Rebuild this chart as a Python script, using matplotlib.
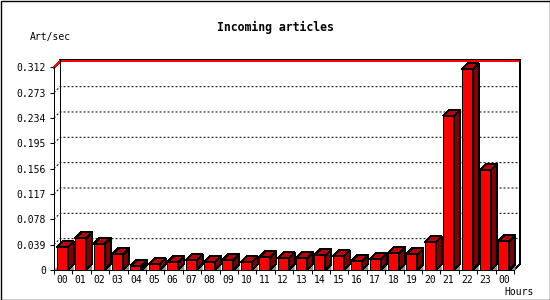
import matplotlib
matplotlib.use('Agg')
import matplotlib.pyplot as plt
from matplotlib.patches import Polygon, Rectangle

matplotlib.rcParams['font.family'] = 'DejaVu Sans Mono'
matplotlib.rcParams['font.size'] = 7
matplotlib.rcParams['lines.scale_dashes'] = False

# 시간대별 값 (Art/sec)
hours = ['00', '01', '02', '03', '04', '05', '06', '07', '08', '09', '10', '11',
         '12', '13', '14', '15', '16', '17', '18', '19', '20', '21', '22', '23', '00']
rates = [0.035, 0.049, 0.040, 0.024, 0.006, 0.009, 0.012, 0.015, 0.012, 0.015,
         0.012, 0.0195, 0.018, 0.018, 0.0226, 0.021, 0.0134, 0.0165, 0.0257, 0.0241,
         0.0426, 0.2375, 0.309, 0.1535, 0.0442]
ytick_vals = [0, 0.039, 0.078, 0.117, 0.156, 0.195, 0.234, 0.273, 0.312]
ytick_labels = ['0', '0.039', '0.078', '0.117', '0.156', '0.195', '0.234', '0.273', '0.312']
ymax = 0.312

FRONT = '#ff0000'
TOP = '#c00000'
SIDE = '#800000'
FLOOR = '#8c8c8c'
LW = 0.72  # 1px

fig = plt.figure(figsize=(5.5, 3), dpi=100, facecolor='white')
ax = fig.add_axes([54 / 550, 30 / 300, 460 / 550, 202.7 / 300])
ax.set_xlim(-0.5, len(hours) - 0.5)
ax.set_ylim(0, ymax)
ax.set_facecolor('none')

# 3D 깊이 (6px) -> 데이터 단위
px_x = 460 / len(hours)
px_y = 202.7 / ymax
DX = 6 / px_x
DY = 6 / px_y
x0, x1 = -0.5, len(hours) - 0.5

# 격자선 (왼쪽 벽 + 뒷벽), 점선
for v in ytick_vals[1:-1]:
    ax.plot([x0, x0 + DX, x1 + DX], [v, v + DY, v + DY], color='black',
            lw=LW, linestyle=(0, (1.44, 1.44)), clip_on=False, zorder=1)
# 최대값 선 (빨강)
ax.plot([x0, x0 + DX, x1 + DX], [ymax, ymax + DY, ymax + DY], color='red',
        lw=LW, clip_on=False, antialiased=False, zorder=2)
# 뒷벽 테두리
ax.plot([x0 + DX, x1 + DX, x1 + DX, x1], [ymax + DY * 1.3, ymax + DY * 1.3, DY, 0],
        color='black', lw=LW, clip_on=False, antialiased=False, zorder=2)
ax.plot([x0 + DX, x0 + DX], [DY, ymax + DY * 1.3], color='black', lw=LW,
        clip_on=False, antialiased=False, zorder=2)

# 바닥 그림자 (왼쪽)
ax.add_patch(Polygon([(x0, 0), (x0 + DX, DY), (x0 + DX, 0)], closed=True,
                     facecolor=FLOOR, edgecolor='none', clip_on=False, zorder=2))

w = 0.6
for i, v in enumerate(rates):
    l = i - 0.05 - w / 2
    r = l + w
    # 그림자
    ax.add_patch(Polygon([(r, 0), (r + DX, DY), (r + DX, 0)], closed=True,
                         facecolor=FLOOR, edgecolor='none', clip_on=False, zorder=3))
    # 앞면
    ax.add_patch(Polygon([(l, 0), (r, 0), (r, v), (l, v)], closed=True,
                         facecolor=FRONT, edgecolor='black', lw=LW,
                         clip_on=False, antialiased=False, zorder=4))
    # 윗면
    ax.add_patch(Polygon([(l, v), (r, v), (r + DX, v + DY), (l + DX, v + DY)], closed=True,
                         facecolor=TOP, edgecolor='black', lw=LW,
                         clip_on=False, antialiased=False, zorder=4))
    # 옆면
    ax.add_patch(Polygon([(r, 0), (r + DX, DY), (r + DX, v + DY), (r, v)], closed=True,
                         facecolor=SIDE, edgecolor='black', lw=LW,
                         clip_on=False, antialiased=False, zorder=4))

# 축 설정
for s in ['top', 'right']:
    ax.spines[s].set_visible(False)
for s in ['left', 'bottom']:
    ax.spines[s].set_linewidth(LW)
    ax.spines[s].set_zorder(5)

ax.set_yticks(ytick_vals)
ax.set_yticklabels(ytick_labels)
ax.tick_params(axis='y', direction='out', length=2.9, width=LW, pad=2.9)

ax.set_xticks([k - 0.05 for k in range(len(hours))])
ax.set_xticklabels(hours)
ax.set_xticks([k - 0.5 for k in range(len(hours) + 1)], minor=True)
ax.tick_params(axis='x', which='major', length=0, pad=3.6)
ax.tick_params(axis='x', which='minor', direction='out', length=2.9, width=LW)

# 제목 및 라벨
fig.text(275 / 550, 1 - 27 / 300, 'Incoming articles', ha='center', va='center',
         fontsize=8.3, fontweight='bold')
fig.text(30 / 550, 1 - 37 / 300, 'Art/sec', ha='left', va='center', fontsize=7)
fig.text(504 / 550, 1 - 292 / 300, 'Hours', ha='left', va='center', fontsize=7)

# 외곽 테두리
fig.patches.append(Rectangle((0.5 / 550, 0.5 / 300), 549 / 550, 299 / 300,
                             transform=fig.transFigure, fill=False,
                             edgecolor='black', lw=LW * 1.4))

fig.savefig('out.png', dpi=100)
